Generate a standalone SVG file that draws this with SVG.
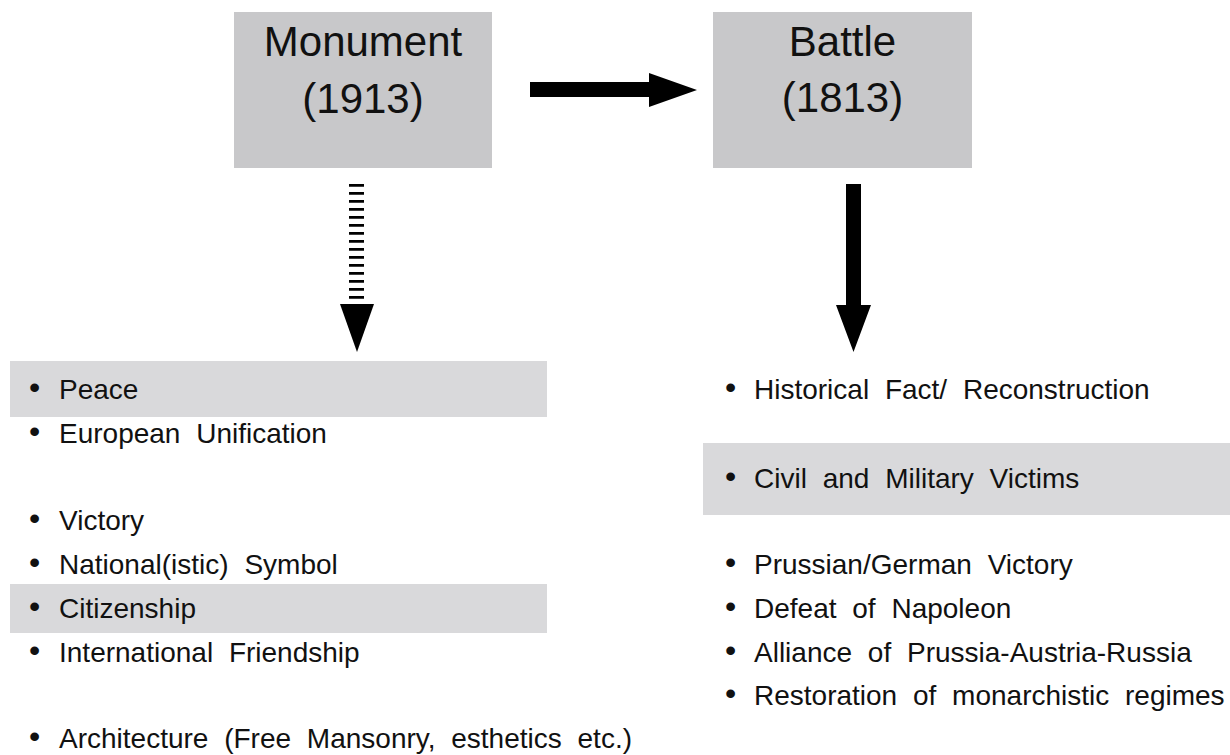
<svg xmlns="http://www.w3.org/2000/svg" width="1230" height="755" viewBox="0 0 1230 755">
<style>
.box{fill:#c8c8ca}
.hl{fill:#d9d9db}
.title{font-family:"Liberation Sans",Arial,sans-serif;font-size:42px;fill:#111;text-anchor:middle}
.item{font-family:"Liberation Sans",Arial,sans-serif;font-size:28px;fill:#111;word-spacing:8px}
.bul{font-family:"Liberation Sans",Arial,sans-serif;font-size:32px;fill:#111}
.arr{fill:#000}
</style>
<rect width="1230" height="755" fill="#fff"/>
<g id="monument">
<rect class="box" x="234" y="12" width="258" height="156"/>
<text class="title" x="363" y="56">Monument</text>
<text class="title" x="363" y="113">(1913)</text>
</g>
<g id="battle">
<rect class="box" x="713" y="12" width="259" height="156"/>
<text class="title" x="842.5" y="56">Battle</text>
<text class="title" x="842.5" y="112">(1813)</text>
</g>
<g id="connectors">
<polygon class="arr" points="530,82 649,82 649,73 697,90 649,107 649,97 530,97"/>
<line x1="356.5" y1="184" x2="356.5" y2="301" stroke="#000" stroke-width="15" stroke-dasharray="2.8 5.2"/>
<polygon class="arr" points="340,304 374,304 357,352"/>
<polygon class="arr" points="846,184 861,184 861,305 871,305 853.5,352 836,305 846,305"/>
</g>
<g id="monument-list">
<rect class="hl" x="10" y="361" width="537" height="56"/>
<rect class="hl" x="10" y="584" width="537" height="49"/>
<text class="bul" x="29" y="398">•</text><text class="item" x="59" y="399">Peace</text>
<text class="bul" x="29" y="442">•</text><text class="item" x="59" y="443">European Unification</text>
<text class="bul" x="29" y="529">•</text><text class="item" x="59" y="530">Victory</text>
<text class="bul" x="29" y="573">•</text><text class="item" x="59" y="574">National(istic) Symbol</text>
<text class="bul" x="29" y="617">•</text><text class="item" x="59" y="618">Citizenship</text>
<text class="bul" x="29" y="661">•</text><text class="item" x="59" y="662">International Friendship</text>
<text class="bul" x="29" y="747">•</text><text class="item" x="59" y="748">Architecture (Free Mansonry, esthetics etc.)</text>
</g>
<g id="battle-list">
<rect class="hl" x="703" y="443" width="527" height="72"/>
<text class="bul" x="725" y="398">•</text><text class="item" x="754" y="399">Historical Fact/ Reconstruction</text>
<text class="bul" x="725" y="487">•</text><text class="item" x="754" y="488">Civil and Military Victims</text>
<text class="bul" x="725" y="573">•</text><text class="item" x="754" y="574">Prussian/German Victory</text>
<text class="bul" x="725" y="617">•</text><text class="item" x="754" y="618">Defeat of Napoleon</text>
<text class="bul" x="725" y="661">•</text><text class="item" x="754" y="662">Alliance of Prussia-Austria-Russia</text>
<text class="bul" x="725" y="704">•</text><text class="item" x="754" y="705">Restoration of monarchistic regimes</text>
</g>
</svg>
